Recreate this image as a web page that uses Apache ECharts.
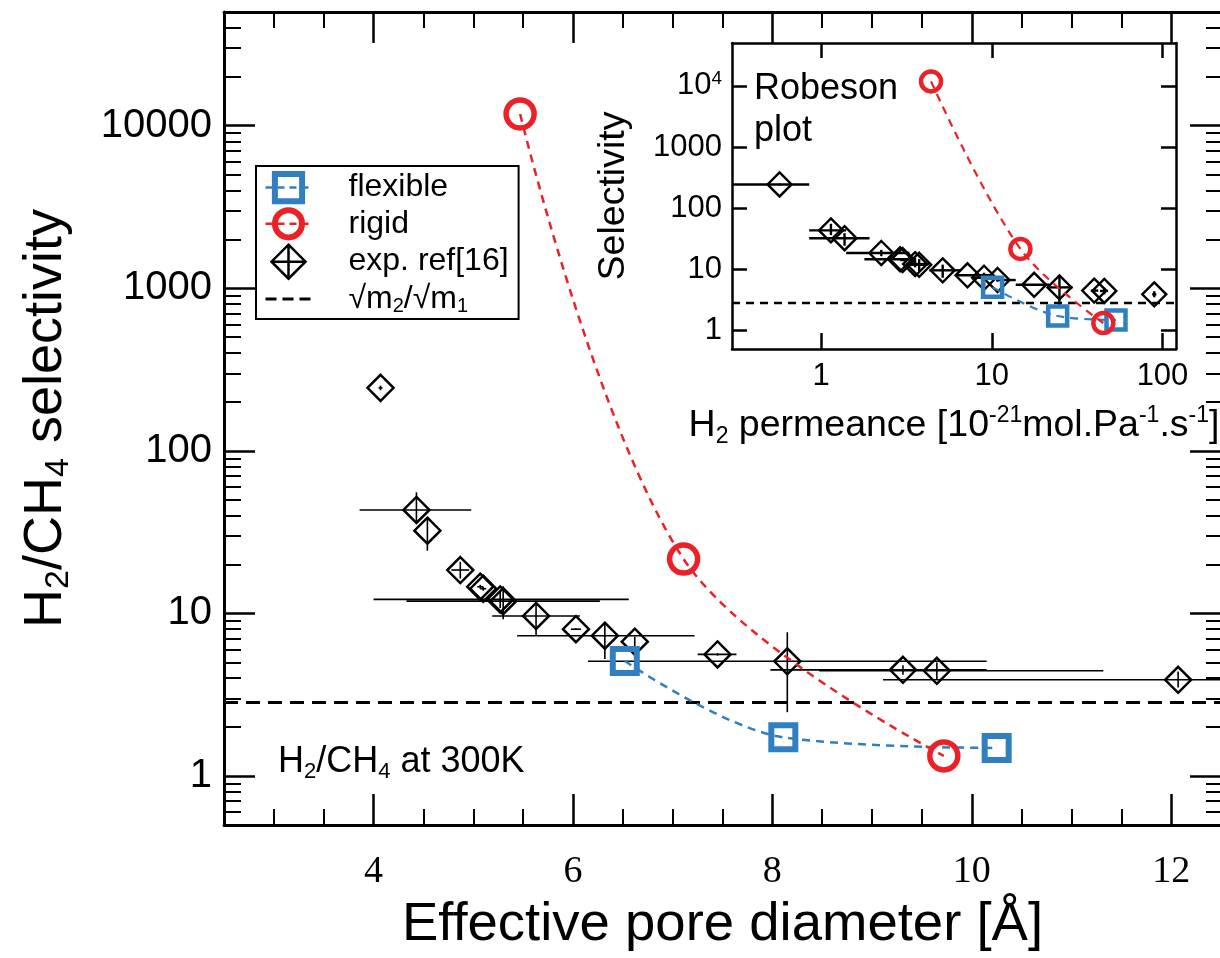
<!DOCTYPE html>
<html><head><meta charset="utf-8">
<script src="https://cdn.jsdelivr.net/npm/echarts@6/dist/echarts.min.js"></script>
<style>html,body{margin:0;padding:0;background:#fff}#chart{width:1220px;height:958px}</style>
</head><body><div id="chart"></div>
<script>
// ---------------- data ----------------
const expPore        = [4.07, 4.43, 4.54, 4.87, 5.07, 5.10, 5.27, 5.30, 5.63, 6.03, 6.32, 6.62, 7.45, 8.15, 9.31, 9.65, 12.07];
const expPoreLow     = [4.05, 3.86, 4.54, 4.78, 5.04, 5.07, 4.00, 4.33, 5.19, 5.98, 5.44, 6.62, 7.25, 6.15, 7.98, 8.47, 9.11];
const expPoreHigh    = [4.09, 4.98, 4.54, 4.96, 5.10, 5.13, 6.56, 6.27, 6.07, 6.08, 7.22, 6.62, 7.64, 10.15, 10.15, 11.32, 12.5];
const expSelectivity = [244, 43.3, 32.3, 18.5, 14.6, 14.2, 12.2, 11.9, 9.65, 8.0, 7.3, 6.7, 5.6, 5.08, 4.5, 4.44, 3.91];
const expSelLow      = [236, 36.3, 24.3, 16.4, 14.2, 13.8, 10.8, 9.2, 7.3, 7.9, 5.25, 6.3, 5.5, 2.47, 4.2, 3.9, 3.5];
const expSelHigh     = [252, 55.6, 39.0, 20.8, 15.0, 14.6, 13.8, 14.7, 11.96, 8.1, 8.8, 7.2, 5.7, 7.66, 4.8, 5.0, 4.4];
const expPermeance   = [0.57, 1.14, 1.37, 2.25, 2.90, 3.00, 3.55, 3.75, 5.15, 7.2, 9.0, 10.8, 17.7, 24.9, 39.8, 45.6, 89.5];
const expPermLow     = [0.3, 0.85, 0.85, 1.40, 1.79, 2.9, 3.14, 3.3, 4.3, 6.17, 7.7, 10.6, 13.8, 21.7, 38, 43, 87];
const expPermHigh    = [0.85, 1.40, 1.92, 3.29, 3.6, 3.1, 4.3, 4.2, 6.5, 10.0, 10.6, 13.8, 21.7, 29.7, 42, 48, 92];

const flexPore        = [6.52, 8.11, 10.25];
const flexSelectivity = [5.1, 1.73, 1.49];
const flexPermeance   = [10.1, 24.3, 53.4];

const rigidPore        = [5.47, 7.11, 9.72];
const rigidSelectivity = [11800, 21.6, 1.33];
const rigidPermeance   = [4.4, 14.7, 45];

const knudsenSelectivity = 2.83;

const mainXMajor = [4, 6, 8, 10, 12];
const mainXMinor = [3, 3.5, 4.5, 5, 5.5, 6.5, 7, 7.5, 8.5, 9, 9.5, 10.5, 11, 11.5];
const mainYMajor = [1, 10, 100, 1000, 10000];
const mainYMinor = [0.6, 0.7, 0.8, 0.9, 2, 3, 4, 5, 6, 7, 8, 9, 20, 30, 40, 50, 60, 70, 80, 90,
  200, 300, 400, 500, 600, 700, 800, 900, 2000, 3000, 4000, 5000, 6000, 7000, 8000, 9000, 20000, 30000, 40000];
const insetXMajor = [1, 10, 100];
const insetYMajor = [1, 10, 100, 1000, 10000];

// ---------------- styles ----------------
const SANS = '"Liberation Sans", Arial, sans-serif';
const SERIF = '"Liberation Serif", "Times New Roman", serif';
const BLUE = '#2f7fc1', RED = '#ec2128', BLACK = '#000', CLEAR = 'rgba(0,0,0,0)';

function richSet(size, small, lh) {
  return {
    t: {fontSize: size, fontFamily: SANS, color: BLACK, lineHeight: lh, verticalAlign: 'middle'},
    sub: {fontSize: small, fontFamily: SANS, color: BLACK, lineHeight: small, verticalAlign: 'bottom'},
    sup: {fontSize: small, fontFamily: SANS, color: BLACK, lineHeight: small, verticalAlign: 'top'}
  };
}

function axis(o) {
  const a = {
    gridIndex: o.grid, type: o.type, min: o.min, max: o.max, position: o.position,
    logBase: 10,
    axisLine: {show: !!o.line, lineStyle: {color: BLACK, width: o.lineWidth || 3}},
    axisTick: {show: true, inside: true, length: o.tickLen, customValues: o.ticks,
      lineStyle: {color: BLACK, width: o.tickWidth || 2.5}},
    axisLabel: o.labels ? Object.assign({show: true, customValues: o.labels, color: BLACK}, o.labelStyle) : {show: false},
    splitLine: {show: false}, minorTick: {show: false}, minorSplitLine: {show: false}
  };
  if (o.type === 'value') delete a.logBase;
  if (o.name) Object.assign(a, o.name);
  return a;
}

const zip = (xs, ys) => xs.map((x, i) => [x, ys[i]]);

function errorBars(name, xi, yi, xs, xl, xh, ys, yl, yh, w) {
  return {
    type: 'custom', name: name, xAxisIndex: xi, yAxisIndex: yi, silent: true, z: 3,
    encode: {x: 0, y: 1},
    data: xs.map((x, i) => [x, ys[i], xl[i], xh[i], yl[i], yh[i]]),
    renderItem: function (params, api) {
      const x = api.value(0), y = api.value(1);
      const pL = api.coord([api.value(2), y]), pR = api.coord([api.value(3), y]);
      const pB = api.coord([x, api.value(4)]), pT = api.coord([x, api.value(5)]);
      const st = {stroke: BLACK, lineWidth: w};
      return {type: 'group', children: [
        {type: 'line', shape: {x1: pL[0], y1: pL[1], x2: pR[0], y2: pR[1]}, style: st},
        {type: 'line', shape: {x1: pB[0], y1: pB[1], x2: pT[0], y2: pT[1]}, style: st}
      ]};
    }
  };
}

function diamonds(xi, yi, xs, ys, size, bw) {
  return {
    type: 'scatter', name: 'exp. ref[16]', xAxisIndex: xi, yAxisIndex: yi, z: 4,
    symbol: 'diamond', symbolSize: size, data: zip(xs, ys),
    itemStyle: {color: CLEAR, borderColor: BLACK, borderWidth: bw, opacity: 1},
    emphasis: {disabled: true}
  };
}

function curve(name, xi, yi, xs, ys, color, symbol, size, bw, lw) {
  return {
    type: 'line', name: name, xAxisIndex: xi, yAxisIndex: yi, z: 5,
    smooth: 0.35, data: zip(xs, ys), symbol: symbol, symbolSize: size, showSymbol: true,
    lineStyle: {color: color, width: lw, type: [8, 6]},
    itemStyle: {color: CLEAR, borderColor: color, borderWidth: bw},
    emphasis: {disabled: true}
  };
}

function knudsen(xi, yi, xr, lw, dash) {
  return {
    type: 'line', name: 'knudsen', xAxisIndex: xi, yAxisIndex: yi, z: 2,
    data: [[xr[0], knudsenSelectivity], [xr[1], knudsenSelectivity]], symbol: 'none',
    lineStyle: {color: BLACK, width: lw, type: dash}, itemStyle: {color: CLEAR, borderWidth: 0},
    emphasis: {disabled: true}
  };
}

const mainYRich = richSet(54, 34, 60);
const insetXRich = richSet(37.5, 23, 44);

const option = {
  animation: false,
  backgroundColor: '#fff',
  textStyle: {fontFamily: SANS},
  grid: [
    {left: 224, top: 12, width: 997, height: 813, outerBoundsMode: 'none', containLabel: false, show: false},
    {left: 732, top: 43, width: 444, height: 306, outerBoundsMode: 'none', containLabel: false, show: false}
  ],
  xAxis: [
    axis({grid: 0, type: 'value', min: 2.5, max: 12.5, position: 'bottom', line: true, tickLen: 31, ticks: mainXMajor,
      labels: mainXMajor, labelStyle: {fontFamily: SERIF, fontSize: 38, margin: 28},
      name: {name: 'Effective pore diameter [Å]', nameLocation: 'middle', nameGap: 72,
        nameTextStyle: {fontFamily: SANS, fontSize: 54.5, color: BLACK}}}),
    axis({grid: 0, type: 'value', min: 2.5, max: 12.5, position: 'bottom', line: false, tickLen: 16, ticks: mainXMinor, tickWidth: 2}),
    axis({grid: 0, type: 'value', min: 2.5, max: 12.5, position: 'top', line: true, tickLen: 31, ticks: mainXMajor}),
    axis({grid: 0, type: 'value', min: 2.5, max: 12.5, position: 'top', line: false, tickLen: 16, ticks: mainXMinor, tickWidth: 2}),
    axis({grid: 1, type: 'log', min: 0.3, max: 120, position: 'bottom', line: true, lineWidth: 2.5, tickLen: 16, ticks: insetXMajor,
      labels: insetXMajor, labelStyle: {fontFamily: SANS, fontSize: 31, margin: 12, formatter: v => String(Math.round(v))},
      name: {name: '{t|H}{sub|2}{t| permeance [10}{sup|-21}{t|mol.Pa}{sup|-1}{t|.s}{sup|-1}{t|]}', nameLocation: 'middle', nameGap: 55,
        nameTextStyle: {rich: insetXRich}}}),
    axis({grid: 1, type: 'log', min: 0.3, max: 120, position: 'top', line: true, lineWidth: 2.5, tickLen: 15, ticks: insetXMajor})
  ],
  yAxis: [
    axis({grid: 0, type: 'log', min: 0.5, max: 50000, position: 'left', line: true, tickLen: 31, ticks: mainYMajor,
      labels: mainYMajor, labelStyle: {fontFamily: SANS, fontSize: 40, margin: 12, formatter: v => String(Math.round(v))},
      name: {name: '{t|H}{sub|2}{t|/CH}{sub|4}{t| selectivity}', nameLocation: 'middle', nameRotate: 90, nameGap: 148,
        nameTextStyle: {rich: mainYRich}}}),
    axis({grid: 0, type: 'log', min: 0.5, max: 50000, position: 'left', line: false, tickLen: 17, ticks: mainYMinor, tickWidth: 2}),
    axis({grid: 0, type: 'log', min: 0.5, max: 50000, position: 'right', line: true, tickLen: 31, ticks: mainYMajor}),
    axis({grid: 0, type: 'log', min: 0.5, max: 50000, position: 'right', line: false, tickLen: 15, ticks: mainYMinor, tickWidth: 2}),
    axis({grid: 1, type: 'log', min: 0.5, max: 50000, position: 'left', line: true, lineWidth: 2.5, tickLen: 15, ticks: insetYMajor,
      labels: insetYMajor, labelStyle: {fontFamily: SANS, fontSize: 31, margin: 10,
        formatter: v => Math.round(v) === 10000 ? '{b|10}{p|4}' : '{b|' + Math.round(v) + '}',
        rich: {b: {fontFamily: SANS, fontSize: 31, color: BLACK, lineHeight: 34, verticalAlign: 'middle'},
               p: {fontFamily: SANS, fontSize: 19, color: BLACK, lineHeight: 19, verticalAlign: 'top'}}},
      name: {name: 'Selectivity', nameLocation: 'middle', nameRotate: 90, nameGap: 99,
        nameTextStyle: {fontFamily: SANS, fontSize: 37.5, color: BLACK}}}),
    axis({grid: 1, type: 'log', min: 0.5, max: 50000, position: 'right', line: true, lineWidth: 2.5, tickLen: 15, ticks: insetYMajor})
  ],
  legend: {
    show: true, orient: 'vertical', left: 256, top: 166,
    padding: [5, 10, 2, 8], itemGap: 3, itemWidth: 46, itemHeight: 34,
    borderColor: BLACK, borderWidth: 2, backgroundColor: '#fff',
    selectedMode: false,
    data: [
      {name: 'flexible', itemStyle: {color: CLEAR, borderColor: BLUE, borderWidth: 6},
        lineStyle: {color: BLUE, width: 2.5, type: [7, 5]}},
      {name: 'rigid', itemStyle: {color: CLEAR, borderColor: RED, borderWidth: 6},
        lineStyle: {color: RED, width: 2.5, type: [7, 5]}},
      {name: 'exp. ref[16]', icon: 'path://M0,-1L1,0L0,1L-1,0Z M0,-1L0,1 M-1,0L1,0',
        itemStyle: {color: CLEAR, borderColor: BLACK, borderWidth: 2.5}},
      {name: 'knudsen', itemStyle: {color: CLEAR, borderColor: CLEAR, borderWidth: 0},
        lineStyle: {color: BLACK, width: 3, type: [11, 6]}}
    ],
    formatter: n => n === 'knudsen' ? '{a|√m}{s|2}{a|/√m}{s|1}' : '{a|' + n + '}',
    textStyle: {
      fontFamily: SANS, fontSize: 32, color: BLACK, padding: [0, 0, 0, 32],
      rich: {
        a: {fontFamily: SANS, fontSize: 32, color: BLACK, lineHeight: 36, verticalAlign: 'middle'},
        s: {fontFamily: SANS, fontSize: 20, color: BLACK, lineHeight: 20, verticalAlign: 'bottom'}
      }
    }
  },
  graphic: [
    {type: 'text', left: 278, top: 744, z: 10,
      style: {text: '{t|H}{sub|2}{t|/CH}{sub|4}{t| at 300K}', rich: richSet(36, 22, 42)}},
    {type: 'text', left: 754, top: 68, z: 10,
      style: {text: 'Robeson\nplot', fontFamily: SANS, fontSize: 36, lineHeight: 42, fill: BLACK}}
  ],
  series: [
    knudsen(0, 0, [2.5, 12.5], 3, [14, 8]),
    errorBars('expErrMain', 0, 0, expPore, expPoreLow, expPoreHigh, expSelectivity, expSelLow, expSelHigh, 1.6),
    diamonds(0, 0, expPore, expSelectivity, 26, 2.5),
    curve('flexible', 0, 0, flexPore, flexSelectivity, BLUE, 'rect', 24, 6, 2.5),
    curve('rigid', 0, 0, rigidPore, rigidSelectivity, RED, 'circle', 28, 5.5, 2.5),
    knudsen(4, 4, [0.3, 120], 2.5, [8, 6]),
    errorBars('expErrInset', 4, 4, expPermeance, expPermLow, expPermHigh, expSelectivity, expSelLow, expSelHigh, 2.4),
    diamonds(4, 4, expPermeance, expSelectivity, 24, 2.4),
    curve('flexible', 4, 4, flexPermeance, flexSelectivity, BLUE, 'rect', 19, 4.5, 2.2),
    curve('rigid', 4, 4, rigidPermeance, rigidSelectivity, RED, 'circle', 20, 4.5, 2.2)
  ]
};

const chart = echarts.init(document.getElementById('chart'), null, {renderer: 'canvas'});
chart.setOption(option);
</script></body></html>
